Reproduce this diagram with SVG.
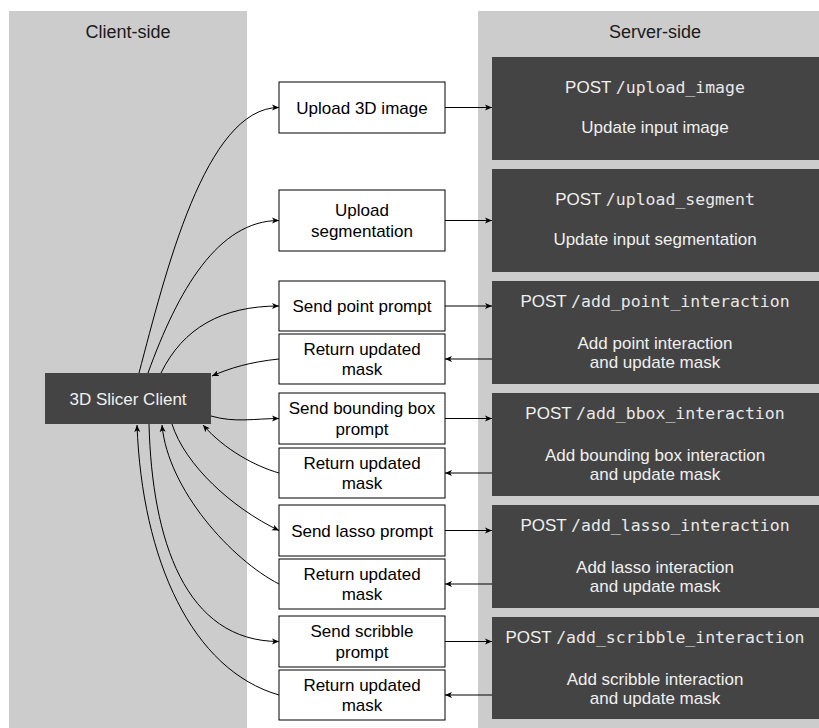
<svg xmlns="http://www.w3.org/2000/svg" width="819" height="728" viewBox="0 0 819 728">
<defs>
<style>
.panel{fill:#cccccc;}
.hdr{font-family:"Liberation Sans",Arial,sans-serif;font-size:18px;fill:#1a1a1a;text-anchor:middle;}
.wbox{fill:#ffffff;stroke:#000000;stroke-width:1;}
.wtxt{font-family:"Liberation Sans",Arial,sans-serif;font-size:17px;fill:#000000;text-anchor:middle;}
.dbox{fill:#444444;}
.dtxt{font-family:"Liberation Sans",Arial,sans-serif;font-size:17px;fill:#f0f0f0;text-anchor:middle;}
.mono{font-family:"DejaVu Sans Mono",monospace;font-size:16.5px;fill:#e8e8e8;}
.conn{fill:none;stroke:#000000;stroke-width:1;marker-end:url(#arr);}
</style>
<marker id="arr" markerUnits="userSpaceOnUse" markerWidth="8" markerHeight="7" refX="7" refY="3.5" orient="auto">
<path d="M0,0.5 L7,3.5 L0,6.5 L1.8,3.5 z" fill="#000000"/>
</marker>
</defs>

<g id="client-panel">
<rect class="panel" x="9" y="11" width="238" height="717"/>
<text class="hdr" x="128" y="38">Client-side</text>
</g>
<g id="server-panel">
<rect class="panel" x="478" y="11" width="341" height="717"/>
<text class="hdr" x="655" y="38">Server-side</text>
</g>

<g id="client">
<rect class="dbox" x="45" y="373" width="166" height="51"/>
<text class="dtxt" x="128" y="404.5">3D Slicer Client</text>
</g>

<g id="srv-upload-image">
<rect class="dbox" x="492" y="57" width="327" height="103"/>
<text class="dtxt" x="655" y="93">POST <tspan class="mono">/upload_image</tspan></text>
<text class="dtxt" x="655" y="133">Update input image</text>
</g>
<g id="srv-upload-segment">
<rect class="dbox" x="492" y="169" width="327" height="103"/>
<text class="dtxt" x="655" y="204.5">POST <tspan class="mono">/upload_segment</tspan></text>
<text class="dtxt" x="655" y="245">Update input segmentation</text>
</g>
<g id="srv-point">
<rect class="dbox" x="492" y="281" width="327" height="103"/>
<text class="dtxt" x="655" y="307">POST <tspan class="mono">/add_point_interaction</tspan></text>
<text class="dtxt" x="655" y="349">Add point interaction</text>
<text class="dtxt" x="655" y="368">and update mask</text>
</g>
<g id="srv-bbox">
<rect class="dbox" x="492" y="393" width="327" height="103"/>
<text class="dtxt" x="655" y="419">POST <tspan class="mono">/add_bbox_interaction</tspan></text>
<text class="dtxt" x="655" y="461">Add bounding box interaction</text>
<text class="dtxt" x="655" y="480">and update mask</text>
</g>
<g id="srv-lasso">
<rect class="dbox" x="492" y="505" width="327" height="103"/>
<text class="dtxt" x="655" y="531">POST <tspan class="mono">/add_lasso_interaction</tspan></text>
<text class="dtxt" x="655" y="573">Add lasso interaction</text>
<text class="dtxt" x="655" y="592">and update mask</text>
</g>
<g id="srv-scribble">
<rect class="dbox" x="492" y="617" width="327" height="102"/>
<text class="dtxt" x="655" y="643">POST <tspan class="mono">/add_scribble_interaction</tspan></text>
<text class="dtxt" x="655" y="685">Add scribble interaction</text>
<text class="dtxt" x="655" y="704">and update mask</text>
</g>

<g id="upload-image">
<rect class="wbox" x="279" y="82" width="166" height="51"/>
<text class="wtxt" x="362" y="113.5">Upload 3D image</text>
</g>
<g id="upload-seg">
<rect class="wbox" x="279" y="190" width="166" height="61"/>
<text class="wtxt" x="362" y="216">Upload</text>
<text class="wtxt" x="362" y="236.5">segmentation</text>
</g>
<g id="send-point">
<rect class="wbox" x="279" y="281" width="166" height="50"/>
<text class="wtxt" x="362" y="312">Send point prompt</text>
</g>
<g id="return-1">
<rect class="wbox" x="279" y="334" width="166" height="50"/>
<text class="wtxt" x="362" y="354.5">Return updated</text>
<text class="wtxt" x="362" y="375">mask</text>
</g>
<g id="send-bbox">
<rect class="wbox" x="279" y="393" width="166" height="51"/>
<text class="wtxt" x="362" y="414">Send bounding box</text>
<text class="wtxt" x="362" y="434.5">prompt</text>
</g>
<g id="return-2">
<rect class="wbox" x="279" y="448" width="166" height="50"/>
<text class="wtxt" x="362" y="468.5">Return updated</text>
<text class="wtxt" x="362" y="489">mask</text>
</g>
<g id="send-lasso">
<rect class="wbox" x="279" y="505" width="166" height="51"/>
<text class="wtxt" x="362" y="536.5">Send lasso prompt</text>
</g>
<g id="return-3">
<rect class="wbox" x="279" y="559" width="166" height="50"/>
<text class="wtxt" x="362" y="579.5">Return updated</text>
<text class="wtxt" x="362" y="600">mask</text>
</g>
<g id="send-scribble">
<rect class="wbox" x="279" y="616" width="166" height="51"/>
<text class="wtxt" x="362" y="637">Send scribble</text>
<text class="wtxt" x="362" y="657.5">prompt</text>
</g>
<g id="return-4">
<rect class="wbox" x="279" y="670" width="166" height="50"/>
<text class="wtxt" x="362" y="690.5">Return updated</text>
<text class="wtxt" x="362" y="711">mask</text>
</g>

<g id="connectors">
<path class="conn" d="M445,107.5 L492,107.5"/>
<path class="conn" d="M445,220.5 L492,220.5"/>
<path class="conn" d="M445,306 L492,306"/>
<path class="conn" d="M492,359 L445,359"/>
<path class="conn" d="M445,418.5 L492,418.5"/>
<path class="conn" d="M492,473 L445,473"/>
<path class="conn" d="M445,530.5 L492,530.5"/>
<path class="conn" d="M492,584 L445,584"/>
<path class="conn" d="M445,641.5 L492,641.5"/>
<path class="conn" d="M492,695 L445,695"/>

<path class="conn" d="M139,373 C165,275 205,107.5 279,107.5"/>
<path class="conn" d="M148,373 C178,290 218,220.5 279,220.5"/>
<path class="conn" d="M161,373 C183,328 222,306 279,306"/>
<path class="conn" d="M279,359 C250,362 230,368 212,376"/>
<path class="conn" d="M211,416 C235,423 255,418.5 279,418.5"/>
<path class="conn" d="M279,473 C255,466 225,450 203,425"/>
<path class="conn" d="M172,424 C185,465 232,508 279,530.5"/>
<path class="conn" d="M279,584 C232,560 168,490 162,425"/>
<path class="conn" d="M149,424 C152,540 185,641.5 279,641.5"/>
<path class="conn" d="M279,695 C192,670 142,560 137,425"/>
</g>
</svg>
